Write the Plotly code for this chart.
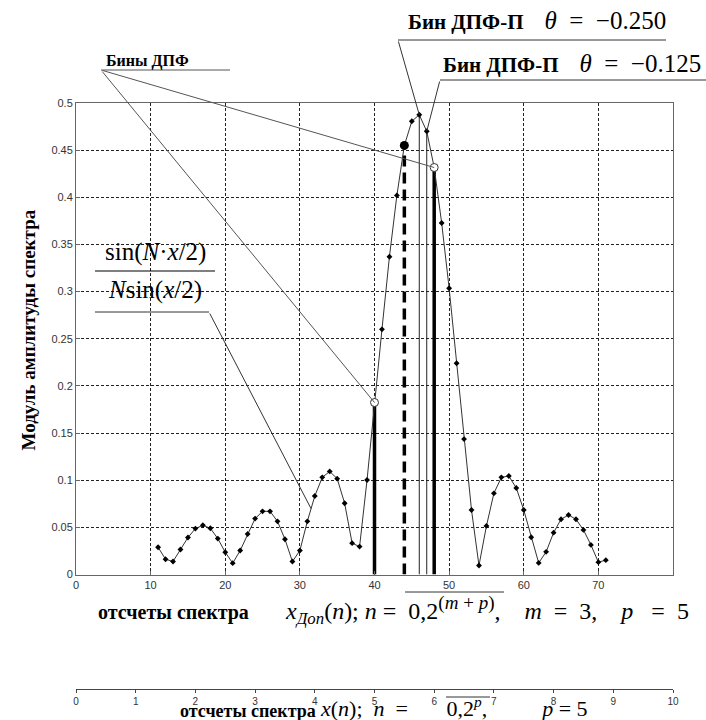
import plotly.graph_objects as go

# ---------------- data ----------------
n_idx = list(range(11, 72))
amp = [0.0289, 0.0162, 0.0138, 0.0265, 0.0392, 0.0487, 0.0522, 0.0490, 0.0381, 0.0236,
       0.0120, 0.0254, 0.0430, 0.0593, 0.0670, 0.0670, 0.0564, 0.0374, 0.0138, 0.0254,
       0.0564, 0.0832, 0.1030, 0.1093, 0.1016, 0.0755, 0.0332, 0.0296, 0.1002, 0.1824,
       0.2600, 0.3370, 0.4020, 0.4550, 0.4806, 0.4875, 0.4700, 0.4316, 0.3728, 0.3036,
       0.2240, 0.1436, 0.0684, 0.0095, 0.0515, 0.0861, 0.1030, 0.1044, 0.0917, 0.0684,
       0.0395, 0.0123, 0.0240, 0.0444, 0.0586, 0.0631, 0.0586, 0.0473, 0.0314, 0.0131,
       0.0152]
dft_bins = [40, 48]          # DFT bins (open circles)
dftp_bins = [46, 47]         # DFT-P bins (thin stems)
dashed_bin = [44]            # dashed stem with filled dot
x_ticks = [0, 10, 20, 30, 40, 50, 60, 70]
y_ticks = [0, 0.05, 0.1, 0.15, 0.2, 0.25, 0.3, 0.35, 0.4, 0.45, 0.5]
x2_ticks = list(range(0, 11))

def val(k):
    return amp[n_idx.index(k)]

# ---------------- geometry helpers (layout only) ----------------
W, H = 706, 720
L, R, T, B = 76, 33, 103, 31
PW, PH = W - L - R, H - T - B
Y0PX = 574.5
d0 = (H - B - Y0PX) / PH
XR = (0, 80)
YR = (0, 0.5)

def px(xv):
    return L + (xv - XR[0]) / (XR[1] - XR[0]) * PW

def py(yv):
    return Y0PX - (yv - YR[0]) / (YR[1] - YR[0]) * (Y0PX - T)

def pxp(p):   # pixel x -> paper
    return (p - L) / PW

def pyp(p):   # pixel y -> paper
    return (H - B - p) / PH

SERIF = "Liberation Serif, Times New Roman, serif"
SANS = "Liberation Sans, Arial, sans-serif"
NB = "&nbsp;"

fig = go.Figure()

# stems
for k in dft_bins:
    fig.add_trace(go.Scatter(x=[k, k], y=[0, val(k)], mode="lines",
                             line=dict(color="black", width=3.5), showlegend=False, hoverinfo="skip"))
for k in dftp_bins:
    fig.add_trace(go.Scatter(x=[k, k], y=[0, val(k)], mode="lines",
                             line=dict(color="#222", width=1), showlegend=False, hoverinfo="skip"))
for k in dashed_bin:
    fig.add_trace(go.Scatter(x=[k, k], y=[0, val(k)], mode="lines",
                             line=dict(color="black", width=3.5, dash="11px,6px"), showlegend=False, hoverinfo="skip"))

# curve
fig.add_trace(go.Scatter(x=n_idx, y=amp, mode="lines+markers",
                         line=dict(color="#333", width=1),
                         marker=dict(symbol="diamond", size=4.5, color="black"),
                         showlegend=False, hoverinfo="skip"))
# special markers
fig.add_trace(go.Scatter(x=dft_bins, y=[val(k) for k in dft_bins], mode="markers",
                         marker=dict(symbol="circle", size=8, color="white",
                                     line=dict(color="#333", width=1)),
                         showlegend=False, hoverinfo="skip"))
fig.add_trace(go.Scatter(x=dashed_bin, y=[val(k) for k in dashed_bin], mode="markers",
                         marker=dict(symbol="circle", size=9, color="black"),
                         showlegend=False, hoverinfo="skip"))
# secondary axis placeholder
fig.add_trace(go.Scatter(x=[x2_ticks[0], x2_ticks[-1]], y=[None, None], xaxis="x2", yaxis="y",
                         mode="lines", showlegend=False, hoverinfo="skip"))

shapes = []
annotations = []

def hline(x1, x2, y, w=1, color="#333"):
    shapes.append(dict(type="line", xref="paper", yref="paper",
                       x0=pxp(x1), x1=pxp(x2), y0=pyp(y), y1=pyp(y),
                       line=dict(color=color, width=w)))

def leader(xv, yv, tail_x, tail_y, color="#555"):
    annotations.append(dict(x=xv, y=yv, xref="x", yref="y", text="",
                            showarrow=True, arrowhead=0, arrowwidth=1, arrowcolor=color,
                            ax=tail_x - px(xv), ay=tail_y - py(yv), standoff=0, startstandoff=0))

def label(x, y, text, size, xanchor="left", family=SERIF, color="black"):
    annotations.append(dict(x=pxp(x), y=pyp(y), xref="paper", yref="paper", text=text,
                            showarrow=False, xanchor=xanchor, yanchor="middle",
                            font=dict(family=family, size=size, color=color)))

# "Бины ДПФ"
label(147, 61, "<b>Бины ДПФ</b>", 16, xanchor="center")
hline(101, 230, 70, color="#555")
for k in dft_bins:
    leader(k, val(k), 101, 70)

# formula label
label(155, 252, "sin(<i>N</i>·<i>x</i>/2)", 25, xanchor="center")
hline(95, 215, 271, w=1.2, color="black")
label(155, 290, "<i>N</i>sin(<i>x</i>/2)", 25, xanchor="center")
hline(95, 209, 312, color="#333")
leader(31.5, (val(31) + val(32)) / 2, 209, 312, color="#333")

# DFT-P labels
def theta_label(v):
    return ("<b>Бин ДПФ-П</b>" + NB * 4 + "<span style='font-size:25px'><i>θ</i>" + NB * 2 + "="
            + NB * 2 + "−" + v + "</span>")

label(406, 21, theta_label("0.250"), 21)
hline(398, 666, 40, color="#333")
leader(dftp_bins[0], val(dftp_bins[0]), 398, 40, color="#333")
label(441, 63, theta_label("0.125"), 21)
hline(440, 706, 80, color="#333")
leader(dftp_bins[1], val(dftp_bins[1]), 440, 80, color="#333")

# bottom title 1
label(96, 612, "<b>отсчеты спектра</b>", 20)
math1 = ("<i>x</i><sub><i>Доп</i></sub>(<i>n</i>); <i>n</i>" + NB + "=" + NB * 2 +
         "0,2<sup><span style='font-size:19px'>(<i>m</i>" + NB + "+" + NB + "<i>p</i>)</span></sup>," +
         NB * 4 + "<i>m</i>" + NB * 2 + "=" + NB * 2 + "3," + NB * 4 +
         "<i>p</i>" + NB * 3 + "=" + NB * 2 + "5")
label(283, 610, math1, 24)
hline(405, 504, 592, color="#333")

# bottom title 2
label(178, 711, "<b>отсчеты спектра</b>", 18)
math2 = ("<i>x</i>(<i>n</i>);" + NB * 2 + "<i>n</i>" + NB * 2 + "=" + NB * 7 +
         "0,2<sup><i>p</i></sup>," + NB * 10 + "<i>p</i>" + NB + "=" + NB + "5")
label(318, 707, math2, 22)
hline(446, 490, 697, color="#333")

# y title
annotations.append(dict(x=pxp(15), y=pyp(330), xref="paper", yref="paper",
                        text="<b>Модуль амплитуды спектра</b>", showarrow=False, textangle=-90,
                        font=dict(family=SERIF, size=19, color="black")))

fig.update_layout(
    width=W, height=H, margin=dict(l=L, r=R, t=T, b=B),
    paper_bgcolor="white", plot_bgcolor="white",
    xaxis=dict(range=list(XR), tickvals=x_ticks, showgrid=True, gridcolor="#222", gridwidth=1,
               griddash="3px,2px", zeroline=False, showline=True, linecolor="#666", linewidth=1,
               mirror=True, ticks="inside", ticklen=4, tickcolor="#666",
               tickfont=dict(family=SANS, size=11, color="#333"), anchor="y"),
    yaxis=dict(range=list(YR), tickvals=y_ticks, domain=[d0, 1], showgrid=True, gridcolor="#222",
               gridwidth=1, griddash="3px,2px", zeroline=False, showline=True, linecolor="#666",
               linewidth=1, mirror=True, ticks="inside", ticklen=4, tickcolor="#666",
               tickfont=dict(family=SANS, size=11, color="#333")),
    xaxis2=dict(range=[x2_ticks[0], x2_ticks[-1]], tickvals=x2_ticks, overlaying="x", anchor="free",
                position=0, side="bottom", showgrid=False, zeroline=False, showline=True,
                linecolor="#444", linewidth=1, ticks="outside", ticklen=3, tickcolor="#444",
                tickfont=dict(family="Liberation Sans Narrow, Arial Narrow, Liberation Sans", size=10, color="#333")),
    shapes=shapes, annotations=annotations,
)

fig.write_html("out.html", config={"displayModeBar": False},
               post_script="document.body.style.margin='0px';document.body.style.overflow='hidden';")
